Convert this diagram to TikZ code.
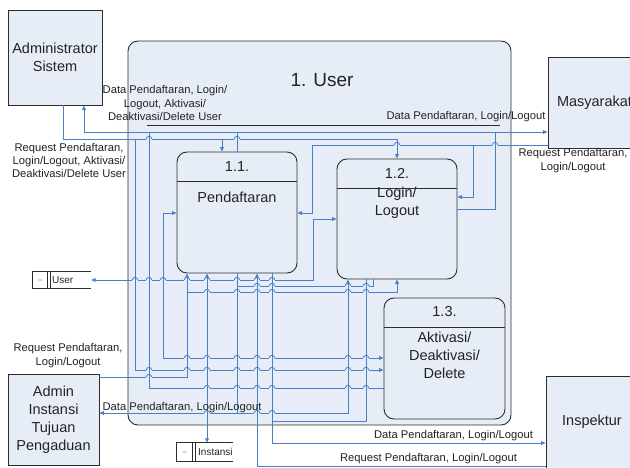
\documentclass[tikz,border=0pt]{standalone}
\usepackage{fontspec}
\setmainfont{Liberation Sans}
\usetikzlibrary{arrows.meta,calc}

\definecolor{boxfill}{RGB}{231,237,247}
\definecolor{wireblue}{RGB}{76,126,200}
\definecolor{edgegray}{RGB}{45,45,45}
\definecolor{txt}{RGB}{35,35,35}

% small line jump drawn over a vertical wire at (#1,#2)
\newcommand{\hopat}[2]{%
  \fill[boxfill] (#1-2.7,#2-0.8) rectangle (#1+2.7,#2+0.8);
  \draw[wire] (#1,#2-1.6) -- (#1,#2+1.6);
  \draw[wire] (#1-2.7,#2) arc[start angle=180,end angle=360,radius=2.7];
}

\begin{document}
\begin{tikzpicture}[x=1pt,y=-1pt,
  >={Triangle[length=4.5pt,width=3.8pt]},
  wire/.style={draw=wireblue, line width=0.8pt},
  extbox/.style={draw=edgegray, fill=boxfill, line width=0.9pt, inner sep=0pt,
    text=txt, align=center, font=\fontsize{14.5}{17.5}\selectfont},
  procbox/.style={draw=edgegray, fill=boxfill, line width=0.9pt, inner sep=0pt,
    rounded corners=10pt},
  divider/.style={draw=edgegray, line width=0.9pt},
  ptext/.style={text=txt, align=center, inner sep=0pt,
    font=\fontsize{14.5}{18}\selectfont},
  lbl/.style={text=txt, align=center, inner sep=0pt,
    font=\fontsize{11.2}{13.3}\selectfont},
  storeline/.style={draw=edgegray, line width=0.8pt},
  storetxt/.style={text=txt, inner sep=0pt, anchor=west,
    font=\fontsize{10}{12}\selectfont},
  storeid/.style={text=gray, inner sep=0pt, font=\fontsize{3}{3}\selectfont}
]
\useasboundingbox (0,0) rectangle (630,468);
\clip (0,0) rectangle (630,468);
\fill[white] (0,0) rectangle (630,468);

% ---------- main process 1 and its sub-processes ----------
\node[procbox, minimum width=383pt, minimum height=384pt] (p1) at (319.5,233) {};
\node[text=txt, inner sep=0pt, font=\fontsize{19}{22}\selectfont] (p1title) at (322,80) {1. User};
\draw[divider] (147,125) -- (500,125);

\node[procbox, minimum width=120pt, minimum height=121pt] (n11) at (237,212.5) {};
\draw[divider] (n11.west |- 0,181) -- (n11.east |- 0,181);
\node[ptext] (n11num) at (237,166.5) {1.1.};
\node[ptext] (n11name) at (237,197) {Pendaftaran};

\node[procbox, minimum width=120pt, minimum height=120pt] (n12) at (397,219) {};
\draw[divider] (n12.west |- 0,188) -- (n12.east |- 0,188);
\node[ptext] (n12num) at (397,173) {1.2.};
\node[ptext] (n12name) at (397,203) {Login/\\Logout};

\node[procbox, minimum width=121pt, minimum height=121pt] (n13) at (444.5,358.5) {};
\draw[divider] (n13.west |- 0,327) -- (n13.east |- 0,327);
\node[ptext] (n13num) at (444.5,312) {1.3.};
\node[ptext] (n13name) at (444.5,355) {Aktivasi/\\Deaktivasi/\\Delete};

% ---------- external entities ----------
\node[extbox, minimum width=94pt, minimum height=95pt] (as) at (55,57.5) {Administrator\\Sistem};
\node[extbox, minimum width=93pt, minimum height=91pt] (ms) at (594.5,102.5) {Masyarakat};
\node[extbox, minimum width=91pt, minimum height=91pt, font=\fontsize{14.5}{18}\selectfont] (ai) at (53.5,419.5) {Admin\\Instansi\\Tujuan\\Pengaduan};
\node[extbox, minimum width=92pt, minimum height=92pt] (insp) at (592,422) {Inspektur};

% ---------- data stores ----------
\node[minimum width=58pt, minimum height=16pt, inner sep=0pt] (us) at (62,280) {};
\draw[storeline] (us.north east) -- (us.north west) -- (us.south west) -- (us.south east);
\draw[storeline] ($(us.north west)+(15,0)$) -- ($(us.south west)+(15,0)$);
\draw[storeline] ($(us.north west)+(17.5,0)$) -- ($(us.south west)+(17.5,0)$);
\node[storeid] (usid) at (40.5,280) {D1};
\node[storetxt] (usname) at (52,280) {User};

\node[minimum width=56pt, minimum height=18pt, inner sep=0pt] (ist) at (205,452) {};
\draw[storeline] (ist.north east) -- (ist.north west) -- (ist.south west) -- (ist.south east);
\draw[storeline] ($(ist.north west)+(16,0)$) -- ($(ist.south west)+(16,0)$);
\draw[storeline] ($(ist.north west)+(18.5,0)$) -- ($(ist.south west)+(18.5,0)$);
\node[storeid] (istid) at (185,452) {D2};
\node[storetxt] (istname) at (198,452) {Instansi};

% ---------- flows: Administrator Sistem ----------
\draw[wire,->] (as.south -| 63,0) -- (63,139) -- (397,139) -- (397,0 |- n12.north);
\draw[wire,->] (222,139) -- (222,0 |- n11.north);
\draw[wire,->] (135,139) -- (135,370) -- (n13.west |- 0,370);

\draw[wire,<->] (84,0 |- as.south) -- (84,132) -- (ms.west |- 0,132);
\draw[wire] (237,0 |- n11.north) -- (237,132);
\draw[wire] (n13.west |- 0,388) -- (149,388) -- (149,132);
\draw[wire] (n12.east |- 0,209) -- (495,209) -- (495,132);

% ---------- flows: Masyarakat ----------
\draw[wire,->] (ms.west |- 0,145) -- (312,145) -- (312,213) -- (n11.east |- 0,213);
\draw[wire,->] (473,145) -- (473,197) -- (n12.east |- 0,197);

% ---------- internal flows ----------
\draw[wire,<->] (n11.west |- 0,213) -- (163,213) -- (163,358) -- (n13.west |- 0,358);
\draw[wire,<->] (us.east) -- (313,0 |- us.east) -- (313,219) -- (n12.west |- 0,219);

% ---------- flows: Admin Instansi Tujuan Pengaduan ----------
\draw[wire,<->] (ai.east |- 0,413) -- (348,413) -- (348,0 |- n12.south);
\draw[wire] (237,0 |- n11.south) -- (237,413);
\draw[wire] (237,286) -- (373,286) -- (373,0 |- n12.south);
\draw[wire,->] (ai.east |- 0,377) -- (187,377) -- (187,0 |- n11.south);
\draw[wire,->] (187,292) -- (397,292) -- (397,0 |- n12.south);
\draw[wire,<->] (207,0 |- n11.south) -- (207,0 |- ist.north);

% ---------- flows: Inspektur ----------
\draw[wire,->] (insp.west |- 0,466) -- (257,466) -- (257,0 |- n11.south);
\draw[wire,->] (272,0 |- n11.south) -- (272,443) -- (insp.west |- 0,443);
\draw[wire] (272,421) -- (366,421) -- (366,0 |- n12.south);

% ---------- line jumps ----------
\foreach \hx/\hy in {149/139, 237/139, 397/145, 495/145,
  135/280, 149/280, 163/280, 187/280, 207/280, 237/280, 257/280, 272/280,
  257/286, 272/286, 348/286, 366/286,
  207/292, 237/292, 257/292, 272/292, 348/292, 366/292,
  187/358, 207/358, 237/358, 257/358, 272/358, 348/358, 366/358,
  149/370, 187/370, 207/370, 237/370, 257/370, 272/370, 348/370, 366/370,
  149/377,
  207/388, 237/388, 257/388, 272/388, 348/388, 366/388,
  207/413, 257/413, 272/413}
  {\hopat{\hx}{\hy}}

% ---------- flow labels ----------
\node[lbl] (l1) at (165,103) {Data Pendaftaran, Login/\\Logout, Aktivasi/\\Deaktivasi/Delete User};
\node[lbl] (l2) at (69,160.5) {Request Pendaftaran,\\Login/Logout, Aktivasi/\\Deaktivasi/Delete User};
\node[lbl] (l3) at (466,117) {Data Pendaftaran, Login/Logout};
\node[lbl] (l4) at (573,160.5) {Request Pendaftaran,\\Login/Logout};
\node[lbl] (l5) at (68,355.5) {Request Pendaftaran,\\Login/Logout};
\node[lbl] (l6) at (182,408) {Data Pendaftaran, Login/Logout};
\node[lbl] (l7) at (453.5,435.5) {Data Pendaftaran, Login/Logout};
\node[lbl] (l8) at (428.5,458.5) {Request Pendaftaran, Login/Logout};
\end{tikzpicture}
\end{document}
